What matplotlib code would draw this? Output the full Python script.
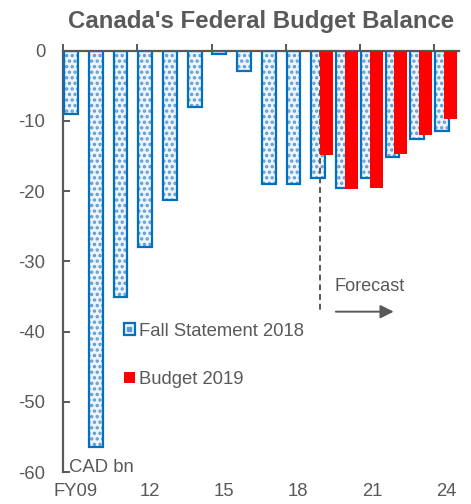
import matplotlib
matplotlib.use("Agg")
import matplotlib.pyplot as plt
from matplotlib.patches import Patch
from matplotlib.lines import Line2D
from matplotlib.legend_handler import HandlerTuple
from matplotlib.ticker import FixedLocator
import numpy as np

plt.rcParams['font.family'] = ['Liberation Sans', 'DejaVu Sans']
plt.rcParams['axes.unicode_minus'] = False
plt.rcParams['hatch.linewidth'] = 1.6

years = ['FY09', 'FY10', 'FY11', 'FY12', 'FY13', 'FY14', 'FY15', 'FY16',
         'FY17', 'FY18', 'FY19', 'FY20', 'FY21', 'FY22', 'FY23', 'FY24']
fall_2018 = [-9.0, -56.4, -35.0, -28.0, -21.3, -8.0, -0.5, -2.9,
             -19.0, -19.0, -18.1, -19.6, -18.1, -15.1, -12.6, -11.5]
budget_years = ['FY19', 'FY20', 'FY21', 'FY22', 'FY23', 'FY24']
budget_2019 = [-14.9, -19.75, -19.6, -14.7, -12.0, -9.8]
xtick_labels = ['FY09', '12', '15', '18', '21', '24']

GRAY = '#595959'
BLUE = '#0070C0'
DOT = '#5B9BD5'
RED = '#FF0000'

fig = plt.figure(figsize=(4.71, 5.04), dpi=100)
ax = fig.add_axes([0.1344, 0.0629, 0.9745 - 0.1344, 0.8998 - 0.0629])

x = np.arange(len(years))
xb = np.array([years.index(y) for y in budget_years])

# blue dotted bars (fill + border)
ax.bar(x - 0.19, fall_2018, width=0.56, facecolor='#EEF4FB', edgecolor=DOT,
       hatch='...', linewidth=0, zorder=2)
ax.bar(x - 0.19, fall_2018, width=0.56, facecolor='none', edgecolor=BLUE,
       linewidth=1.6, zorder=3)
# forecast divider
ax.plot([9.9, 9.9], [0, -37.3], color=GRAY, linestyle=(0, (3, 2)),
        linewidth=1.4, zorder=4)
# red bars
ax.bar(xb + 0.15, budget_2019, width=0.53, facecolor=RED, edgecolor='none',
       linewidth=0, zorder=5)

ax.set_xlim(-0.5, len(years) - 0.5)
ax.set_ylim(-60, 0)

for s in ['right', 'bottom']:
    ax.spines[s].set_visible(False)
for s in ['left', 'top']:
    ax.spines[s].set_color(GRAY)
    ax.spines[s].set_linewidth(1.6)

ax.set_yticks(np.arange(-60, 1, 10))
ax.tick_params(axis='y', direction='in', length=5, width=1.4, color=GRAY,
               labelcolor=GRAY, labelsize=13.3, pad=13)

ax.set_xticks(x[::3])
ax.set_xticklabels(xtick_labels)
ax.tick_params(axis='x', which='major', length=0, bottom=True, top=False,
               labelbottom=True, labelcolor=GRAY, labelsize=13.3, pad=8)
ax.xaxis.set_minor_locator(FixedLocator(np.arange(-0.5, len(years), 3)))
ax.tick_params(axis='x', which='minor', top=True, bottom=False,
               direction='out', length=5, width=1.4, color=GRAY)

ax.set_title("Canada's Federal Budget Balance", fontsize=17.3,
             fontweight='bold', color=GRAY, pad=16)

ax.text(-0.27, -59.9, 'CAD bn', fontsize=13.3, color=GRAY,
        ha='left', va='baseline')

ax.text(10.48, -33.6, 'Forecast', fontsize=13.1, color=GRAY,
        ha='left', va='center')
ax.annotate('', xy=(12.86, -37.15), xytext=(10.52, -37.15),
            arrowprops=dict(arrowstyle='-|>', color=GRAY, lw=1.4,
                            mutation_scale=20, shrinkA=0, shrinkB=0))

fall_handle = (Patch(facecolor='#EEF4FB', edgecolor=BLUE, linewidth=1.6),
               Line2D([], [], marker='s', markersize=2.5, color=DOT,
                      linestyle='none'))
handles = [fall_handle, Patch(facecolor=RED, edgecolor='none')]
leg = ax.legend(handles, ['Fall Statement 2018', 'Budget 2019'],
                handler_map={tuple: HandlerTuple(ndivide=1, pad=0)},
                loc='upper left', bbox_to_anchor=(0.153, 0.355),
                frameon=False, fontsize=13.3, handlelength=0.6,
                handleheight=0.6, handletextpad=0.2, labelspacing=1.7,
                borderaxespad=0, borderpad=0)
for t in leg.get_texts():
    t.set_color(GRAY)

fig.savefig('out.png', dpi=100)
